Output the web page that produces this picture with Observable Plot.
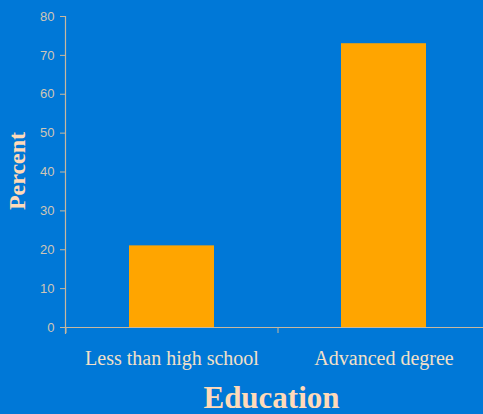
<!DOCTYPE html>
<html>
<head>
<meta charset="utf-8">
<script src="https://cdn.jsdelivr.net/npm/d3@7"></script>
<script src="https://cdn.jsdelivr.net/npm/@observablehq/plot@0.6"></script>
<style>
  html, body { margin: 0; padding: 0; background: #0078D7; }
  #chart svg { display: block; }
</style>
</head>
<body>
<div id="chart"></div>
<script>
const categories = ["Less than high school", "Advanced degree"];
const percents = [21, 73];
const yTicks = [0, 10, 20, 30, 40, 50, 60, 70, 80];
const xTitle = "Education";
const yTitle = "Percent";

const data = categories.map((c, i) => ({category: c, percent: percents[i]}));

const axisColor = "#C8B89E";
const tickLabelColor = "#CFC6B6";
const xLabelColor = "#F2E0C8";
const titleColor = "#FFDAB9";
const serif = "'Liberation Serif', 'DejaVu Serif', serif";
const sans = "'Liberation Sans', Arial, sans-serif";

const chart = Plot.plot({
  width: 483,
  height: 414,
  marginLeft: 65,
  marginRight: 0,
  marginTop: 16,
  marginBottom: 87,
  style: {background: "#0078D7", overflow: "visible"},
  x: {type: "band", domain: categories, range: [65, 489], paddingInner: 0.6, paddingOuter: 0.3, axis: null},
  y: {domain: [0, 80], range: [327, 16], axis: null},
  marks: [
    Plot.barY(data, {x: "category", y: "percent", fill: "#FFA500"}),
    Plot.ruleY([0], {stroke: axisColor, strokeWidth: 1.2, insetLeft: -5}),
    Plot.frame({anchor: "left", stroke: axisColor, strokeWidth: 1.2, insetBottom: -6}),
    Plot.axisY(yTicks, {anchor: "left", label: null, tickSize: 5, tickPadding: 6, stroke: axisColor, fill: tickLabelColor, fontSize: 13, fontFamily: sans}),
    Plot.axisX({anchor: "bottom", label: null, tickSize: 6, tickFormat: () => "", dx: -106, stroke: axisColor}),
    Plot.axisX({anchor: "bottom", label: null, tickSize: 0, tickPadding: 23, fill: xLabelColor, fontSize: 20, fontFamily: serif}),
    Plot.text([yTitle], {frameAnchor: "left", textAnchor: "middle", lineAnchor: "middle", dx: -48, dy: -1, rotate: -90, fontSize: 24, fontWeight: "bold", fontFamily: serif, fill: titleColor}),
    Plot.text([xTitle], {frameAnchor: "bottom", lineAnchor: "middle", dx: -3, dy: 71, fontSize: 31, fontWeight: "bold", fontFamily: serif, fill: titleColor})
  ]
});
document.getElementById("chart").appendChild(chart);
</script>
</body>
</html>
